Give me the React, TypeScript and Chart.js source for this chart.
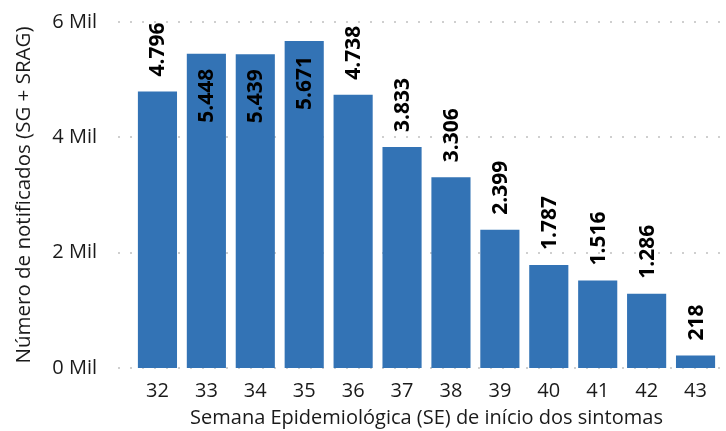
import React, { useEffect, useRef } from "react";
import { Chart, registerables } from "chart.js";

Chart.register(...registerables);

const categories = ["32", "33", "34", "35", "36", "37", "38", "39", "40", "41", "42", "43"];
const notified = [4796, 5448, 5439, 5671, 4738, 3833, 3306, 2399, 1787, 1516, 1286, 218];
const yTickValues = [0, 2000, 4000, 6000];

const FONT = "'Open Sans', 'DejaVu Sans', sans-serif";
const TEXT = "#1a1a1a";
const BAR = "#3373B5";

function fmt(v: number): string {
  return String(v).replace(/\B(?=(\d{3})+(?!\d))/g, ".");
}

const gridPlugin = {
  id: "dottedGrid",
  beforeDatasetsDraw(chart: any) {
    const { ctx, chartArea, scales } = chart;
    ctx.save();
    ctx.strokeStyle = "#cfcfcf";
    ctx.lineWidth = 2;
    ctx.setLineDash([2, 10]);
    for (const v of yTickValues) {
      const y = Math.round(scales.y.getPixelForValue(v));
      ctx.beginPath();
      ctx.moveTo(chartArea.left - 15, y);
      ctx.lineTo(chartArea.right + 4, y);
      ctx.stroke();
    }
    ctx.restore();
  },
};

const labelPlugin = {
  id: "rotLabels",
  afterDatasetsDraw(chart: any) {
    const { ctx } = chart;
    const meta = chart.getDatasetMeta(0);
    const data = chart.data.datasets[0].data as number[];
    ctx.save();
    ctx.font = `bold 21px ${FONT}`;
    ctx.fillStyle = "#000";
    ctx.textBaseline = "middle";
    meta.data.forEach((bar: any, i: number) => {
      const text = fmt(data[i]);
      const w = ctx.measureText(text).width;
      const gap = 15;
      const x = bar.x + 1;
      const top = bar.y;
      ctx.save();
      if (top - gap - w < 0) {
        ctx.translate(x, top + gap);
        ctx.rotate(-Math.PI / 2);
        ctx.textAlign = "right";
      } else {
        ctx.translate(x, top - gap);
        ctx.rotate(-Math.PI / 2);
        ctx.textAlign = "left";
      }
      ctx.fillText(text, 0, 0);
      ctx.restore();
    });
    ctx.restore();
  },
};

export default function App() {
  const ref = useRef<HTMLCanvasElement>(null);
  useEffect(() => {
    document.body.style.margin = "0";
    const chart = new Chart(ref.current!, {
      type: "bar",
      data: {
        labels: categories,
        datasets: [
          {
            data: notified,
            backgroundColor: BAR,
            categoryPercentage: 1,
            barPercentage: 0.8,
          },
        ],
      },
      options: {
        responsive: false,
        animation: false,
        layout: { padding: { top: 22, right: 6, bottom: 0, left: 0 } },
        plugins: { legend: { display: false }, tooltip: { enabled: false } },
        scales: {
          x: {
            grid: { display: false, drawTicks: false },
            border: { display: false },
            ticks: { color: TEXT, font: { family: FONT, size: 20 }, padding: 11 },
            title: {
              display: true,
              text: "Semana Epidemiológica (SE) de início dos sintomas",
              color: TEXT,
              font: { family: FONT, size: 20, lineHeight: 1 },
              padding: { top: 0, bottom: 3 },
            },
            afterFit(scale: any) {
              scale.height = 63;
              scale.paddingLeft = 0;
              scale.paddingRight = 0;
            },
          },
          y: {
            min: 0,
            max: 6000,
            grid: { display: false, drawTicks: false },
            border: { display: false },
            ticks: {
              stepSize: 2000,
              color: TEXT,
              font: { family: FONT, size: 20 },
              padding: 36,
              callback: (v: any) => `${Number(v) / 1000} Mil`,
            },
            title: {
              display: true,
              text: "Número de notificados (SG + SRAG)",
              color: TEXT,
              font: { family: FONT, size: 20.5, lineHeight: 1 },
              padding: { top: 14, bottom: 0 },
            },
            afterFit(scale: any) {
              scale.width = 133;
              scale.paddingTop = 0;
              scale.paddingBottom = 0;
            },
          },
        },
      },
      plugins: [gridPlugin, labelPlugin],
    });
    return () => chart.destroy();
  }, []);
  return (
    <div style={{ position: "absolute", left: 0, top: 0, width: 726, height: 431 }}>
      <canvas ref={ref} width={726} height={431} />
    </div>
  );
}
